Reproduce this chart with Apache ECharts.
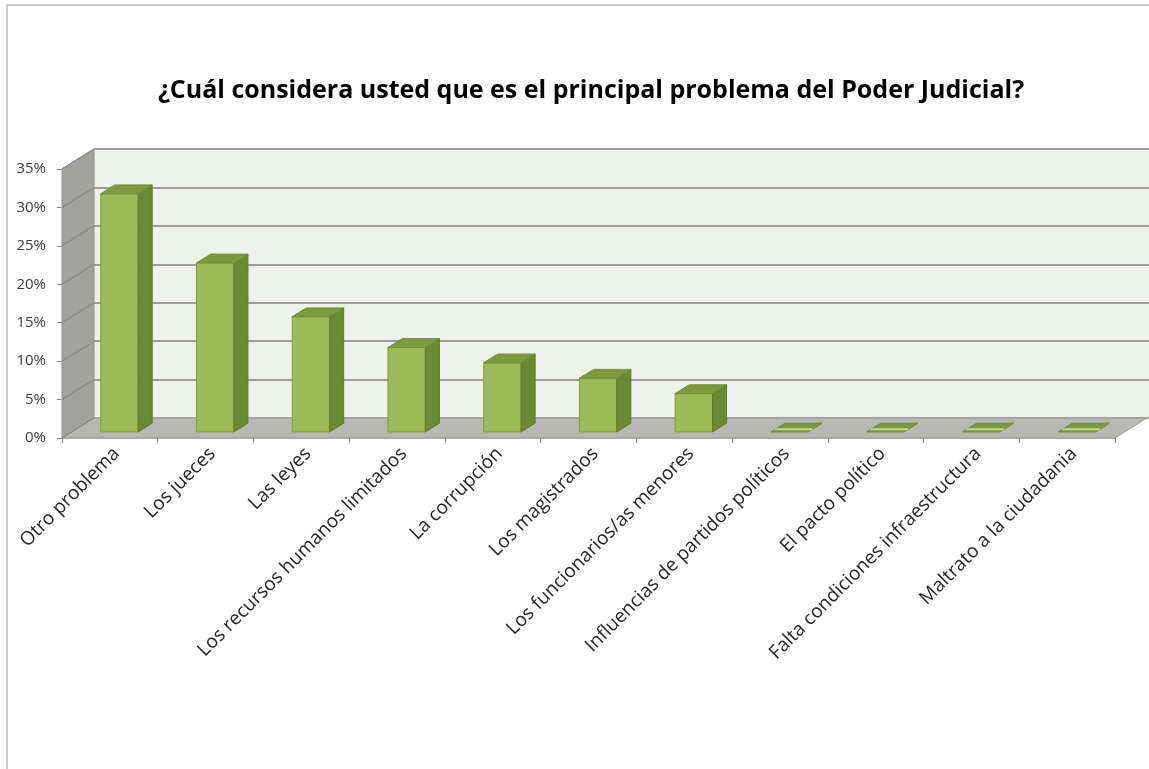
<!DOCTYPE html>
<html>
<head>
<meta charset="utf-8">
<script src="https://cdn.jsdelivr.net/npm/echarts@6/dist/echarts.min.js"></script>
<style>
    html, body { margin: 0; padding: 0; background: #fff; }
    #chart { width: 1149px; height: 769px; }
</style>
</head>
<body>
<div id="chart"></div>
<script>
const categories = [
    'Otro problema',
    'Los jueces',
    'Las leyes',
    'Los recursos humanos limitados',
    'La corrupción',
    'Los magistrados',
    'Los funcionarios/as menores',
    'Influencias de partidos políticos',
    'El pacto político',
    'Falta condiciones infraestructura',
    'Maltrato a la ciudadania'
];
const values = [31, 22, 15, 11, 9, 7, 5, 0, 0, 0, 0];
const yTicks = [0, 5, 10, 15, 20, 25, 30, 35];

!function () {
    // profundidad del efecto 3D (px)
    const DX = 32, DY = -20;
    const FRONT = 0.3, BACK = 0.74;
    const BAR_RATIO = 0.39;

    function renderWalls(params, api) {
        const cs = params.coordSys;
        const x0 = cs.x, x1 = cs.x + cs.width;
        const y0 = api.coord([0, 0])[1];
        const yTop = api.coord([0, yTicks[yTicks.length - 1]])[1];
        const children = [];
        // pared izquierda
        children.push({
            type: 'polygon',
            shape: {points: [[x0, y0], [x0, yTop], [x0 + DX, yTop + DY], [x0 + DX, y0 + DY]]},
            style: {fill: '#a2a2a0', stroke: '#8e8e8c', lineWidth: 1}
        });
        // piso
        children.push({
            type: 'polygon',
            shape: {points: [[x0, y0], [x1, y0], [x1 + DX, y0 + DY], [x0 + DX, y0 + DY]]},
            style: {fill: '#b7b7b4', stroke: '#9c9c9a', lineWidth: 1}
        });
        // diagonales de la pared izquierda
        yTicks.forEach(t => {
            const y = api.coord([0, t])[1];
            children.push({
                type: 'line',
                shape: {x1: x0, y1: y, x2: x0 + DX, y2: y + DY},
                style: {stroke: '#8a8a88', lineWidth: 1.2}
            });
        });
        return {type: 'group', children: children};
    }

    function renderBar(params, api) {
        const idx = api.value(0);
        const val = api.value(1);
        const base = api.coord([idx, 0]);
        const top = api.coord([idx, val]);
        const w = api.size([1, 0])[0] * BAR_RATIO;
        const fx = DX * FRONT, fy = DY * FRONT;
        const sx = DX * (BACK - FRONT), sy = DY * (BACK - FRONT);
        const l = base[0] - w / 2 + fx, r = base[0] + w / 2 + fx;
        const yb = base[1] + fy, yt = top[1] + fy;
        const children = [];
        if (yb - yt > 0.5) {
            children.push({
                type: 'polygon',
                shape: {points: [[l, yb], [r, yb], [r, yt], [l, yt]]},
                style: {fill: '#9bbb59', stroke: '#7f9c45', lineWidth: 1}
            });
            children.push({
                type: 'polygon',
                shape: {points: [[r, yb], [r + sx, yb + sy], [r + sx, yt + sy], [r, yt]]},
                style: {fill: '#6b8834', stroke: '#607c2e', lineWidth: 1}
            });
        }
        children.push({
            type: 'polygon',
            shape: {points: [[l, yt], [r, yt], [r + sx, yt + sy], [l + sx, yt + sy]]},
            style: {fill: '#7c9b3f', stroke: '#6f8d37', lineWidth: 1}
        });
        if (yb - yt <= 0.5) {
            children.push({
                type: 'line',
                shape: {x1: l + sx * 0.3, y1: yt + sy * 0.3, x2: r + sx * 0.3, y2: yt + sy * 0.3},
                style: {stroke: '#c4d69a', lineWidth: 2}
            });
        }
        return {type: 'group', children: children};
    }

    const chart = echarts.init(document.getElementById('chart'));
    const option = {
        animation: false,
        backgroundColor: '#ffffff',
        title: {
            text: '¿Cuál considera usted que es el principal problema del Poder Judicial?',
            left: 586,
            top: 73,
            textAlign: 'center',
            textStyle: {
                fontFamily: 'Open Sans',
                fontWeight: 'bold',
                fontSize: 25,
                color: '#000000'
            }
        },
        graphic: [{
            type: 'rect',
            shape: {x: 7, y: 5, width: 1300, height: 900},
            style: {fill: 'none', stroke: '#bdbdbd', lineWidth: 1.5},
            silent: true
        }],
        grid: [
            // frente
            {left: 62, right: 34, top: 169, bottom: 331},
            // pared del fondo
            {left: 94, right: 0, top: 149, bottom: 351, show: true, backgroundColor: '#eff2eb', borderWidth: 0}
        ],
        xAxis: [
            {
                type: 'category',
                gridIndex: 0,
                data: categories,
                axisLine: {lineStyle: {color: '#9a9a9a', width: 1.5}},
                axisTick: {show: true, length: 5, lineStyle: {color: '#8a8a8a'}},
                axisLabel: {
                    interval: 0,
                    rotate: 45,
                    margin: 6,
                    verticalAlign: 'top',
                    fontFamily: 'Open Sans',
                    fontSize: 19,
                    color: '#262626'
                }
            },
            {type: 'value', gridIndex: 1, show: false, min: 0, max: 1}
        ],
        yAxis: [
            {
                type: 'value',
                gridIndex: 0,
                min: 0,
                max: 35,
                interval: 5,
                axisLine: {show: true, lineStyle: {color: '#8e8e8c', width: 1}},
                axisTick: {show: true, length: 5, lineStyle: {color: '#8a8a8a'}},
                splitLine: {show: false},
                axisLabel: {
                    formatter: '{value}%',
                    margin: 16,
                    fontFamily: 'Open Sans',
                    fontSize: 15,
                    color: '#404040'
                }
            },
            {
                type: 'value',
                gridIndex: 1,
                min: 0,
                max: 35,
                interval: 5,
                axisLine: {show: false},
                axisTick: {show: false},
                axisLabel: {show: false},
                splitLine: {show: true, lineStyle: {color: '#9c9c9c', width: 2}}
            }
        ],
        series: [
            {
                type: 'custom',
                xAxisIndex: 0,
                yAxisIndex: 0,
                z: 1,
                renderItem: renderWalls,
                data: [[0, 0]]
            },
            {
                type: 'custom',
                xAxisIndex: 0,
                yAxisIndex: 0,
                z: 3,
                renderItem: renderBar,
                data: values.map((v, i) => [i, v])
            }
        ]
    };
    chart.setOption(option);
}();
</script>
</body>
</html>
